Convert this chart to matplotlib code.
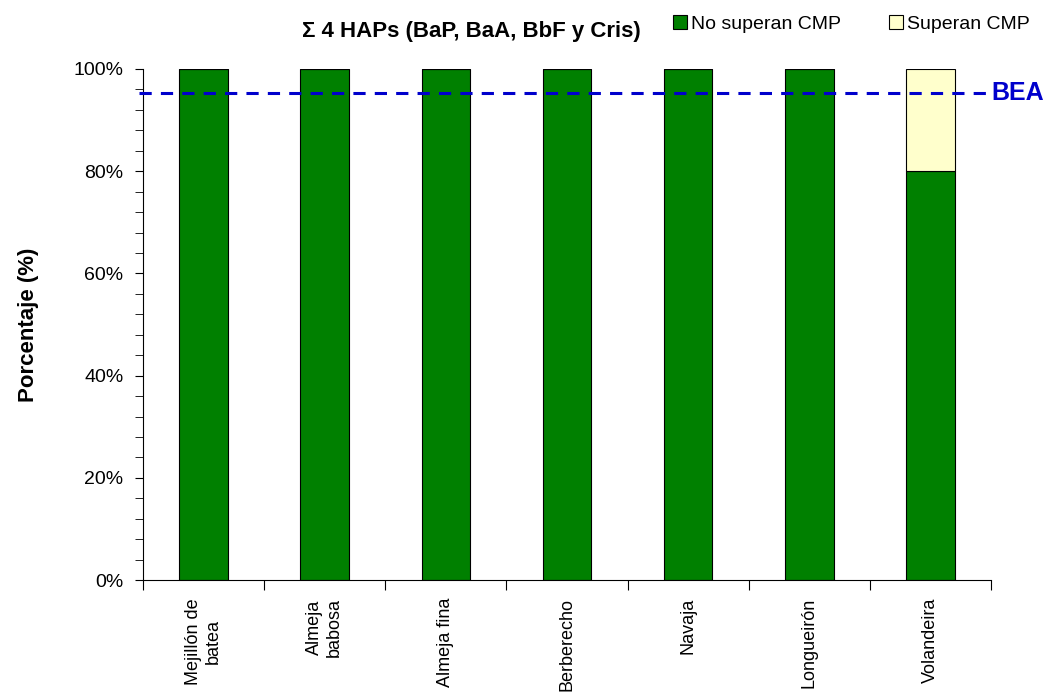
import matplotlib.pyplot as plt
import numpy as np

especies = ["Mejillón de\nbatea", "Almeja\nbabosa", "Almeja fina", "Berberecho",
            "Navaja", "Longueirón", "Volandeira"]
no_superan = [100, 100, 100, 100, 100, 100, 80]
superan = [0, 0, 0, 0, 0, 0, 20]
bea = 95.3

plt.rcParams['font.family'] = ['Liberation Sans Narrow', 'Liberation Sans', 'DejaVu Sans']

fig = plt.figure(figsize=(10.47, 6.92), dpi=100)
ax = fig.add_axes([0.1366, 0.1618, 0.8099, 0.7385])

x = np.arange(len(especies))
b1 = ax.bar(x, no_superan, width=0.4, color='#008000', edgecolor='black', linewidth=0.8,
            label='No superan CMP', zorder=2)
b2 = ax.bar(x, superan, width=0.4, bottom=no_superan, color='#FFFFCC', edgecolor='black',
            linewidth=0.8, label='Superan CMP', zorder=2)
ax.axhline(bea, color='#0000CC', linestyle=(0, (4, 3)), linewidth=2.2, zorder=3,
           xmin=-0.005, xmax=1.0, clip_on=False)
ax.text(1.0, bea, 'BEA', transform=ax.get_yaxis_transform(), color='#0000CC',
        fontsize=18, fontweight='bold', va='center', ha='left')

ax.set_xlim(-0.5, len(especies) - 0.5)
ax.set_ylim(0, 100)
ax.set_yticks(np.arange(0, 101, 20))
ax.set_yticks(np.arange(0, 101, 4), minor=True)
ax.set_yticklabels([f"{v}%" for v in range(0, 101, 20)], fontsize=14)
ax.set_xticks(np.arange(-0.5, len(especies), 1))
ax.set_xticklabels([])
ax.set_xticks(x, minor=True)
ax.set_xticklabels(especies, minor=True, rotation=90, fontsize=13, va='top', ha='center',
                   multialignment='center')
ax.tick_params(axis='x', which='minor', length=0, pad=13)
ax.tick_params(axis='x', which='major', length=7, direction='out')
ax.tick_params(axis='y', which='major', length=6, direction='out', pad=8)
ax.tick_params(axis='y', which='minor', length=6, direction='out')
for s in ['top', 'right']:
    ax.spines[s].set_visible(False)

ax.set_ylabel('Porcentaje (%)', fontsize=16, fontweight='bold', labelpad=25)
fig.text(0.45, 0.955, 'Σ 4 HAPs (BaP, BaA, BbF y Cris)', fontsize=16, fontweight='bold',
         ha='center', va='center')
fig.legend(handles=[b1, b2], loc='center right', bbox_to_anchor=(1.0, 0.965), ncol=2,
           frameon=False, fontsize=14, handlelength=0.7, handleheight=0.7,
           handletextpad=0.2, columnspacing=2.5)

plt.savefig('out.png', dpi=100)
